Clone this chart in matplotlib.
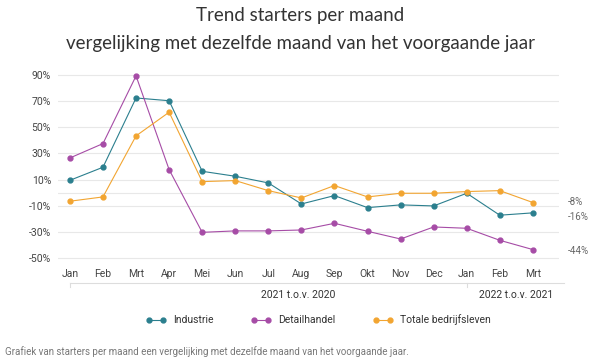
import matplotlib
matplotlib.use("Agg")
import matplotlib.pyplot as plt
from matplotlib.lines import Line2D

plt.rcParams['font.family'] = ['Roboto', 'DejaVu Sans']

months = ["Jan", "Feb", "Mrt", "Apr", "Mei", "Jun", "Jul", "Aug",
          "Sep", "Okt", "Nov", "Dec", "Jan", "Feb", "Mrt"]
industrie = [9.4, 19.4, 72.4, 70.3, 16.3, 12.5, 7.4, -8.7,
             -2.3, -11.5, -9.4, -10.2, -0.5, -17.3, -15.5]
detailhandel = [26.5, 37.5, 89.3, 17.6, -30.4, -29.3, -29.3, -28.6,
                -23.5, -29.6, -35.5, -26.3, -27.3, -36.5, -43.6]
totaal = [-6.6, -3.3, 43.4, 61.5, 8.4, 9.2, 1.5, -4.1,
          5.4, -3.3, -0.5, -0.5, 0.8, 1.5, -7.6]
yticks = [90, 70, 50, 30, 10, -10, -30, -50]
end_labels = ["-8%", "-16%", "-44%"]

c_ind = "#2b7f8e"
c_det = "#a64ca6"
c_tot = "#f2a531"
grey = "#666666"

fig = plt.figure(figsize=(6, 3.6), dpi=100)
ax = fig.add_axes([58 / 600, 1 - 262 / 360, 501 / 600, 192 / 360])

x = list(range(len(months)))
for vals, col, name in [(industrie, c_ind, "Industrie"),
                        (detailhandel, c_det, "Detailhandel"),
                        (totaal, c_tot, "Totale bedrijfsleven")]:
    ax.plot(x, vals, color=col, lw=0.8, marker="o", ms=3.5, label=name, zorder=3)

for y in yticks + [0]:
    ax.axhline(y, color="#e8e8e8", lw=0.8, zorder=1)

ax.set_xlim(-0.36, 14.79)
ax.set_ylim(-53.1, 93.8)
ax.set_yticks(yticks)
ax.set_yticklabels([f"{v}%" for v in yticks], fontsize=7.5, color="#444444")
ax.set_xticks(x)
ax.set_xticklabels(months, fontsize=7.5, color="#444444")
ax.tick_params(length=0, pad=5)
for s in ax.spines.values():
    s.set_visible(False)

# labels at the end of the lines
for txt, yv in zip(end_labels, [totaal[-1] + 0.5, industrie[-1] - 3.1, detailhandel[-1] - 1.0]):
    ax.text(14 + 1.06, yv, txt, fontsize=7, color=grey, va="center", ha="left")

# year grouping below the month labels
ax.plot([0, 14.95], [-69.2, -69.2], color="#dddddd", lw=0.8, clip_on=False)
ax.plot([0, 0], [-69.2, -72.5], color="#dddddd", lw=0.8, clip_on=False)
ax.plot([12, 12], [-69.2, -72.5], color="#dddddd", lw=0.8, clip_on=False)
ax.text(6.9, -78.4, "2021 t.o.v. 2020", fontsize=7.5, color="#333333", ha="center", va="center")
ax.text(13.5, -78.4, "2022 t.o.v. 2021", fontsize=7.5, color="#333333", ha="center", va="center")

handles = [Line2D([0], [0], color=c, lw=0.8, marker="o", ms=3.5)
           for c in (c_ind, c_det, c_tot)]
fig.legend(handles, ["Industrie", "Detailhandel", "Totale bedrijfsleven"],
           loc="center", bbox_to_anchor=(318 / 600, 1 - 320 / 360), ncol=3,
           frameon=False, fontsize=7.5, numpoints=2, handlelength=2.0,
           columnspacing=3.6, handletextpad=0.6, labelcolor="#333333")

fig.text(0.5, 1 - 16 / 360, "Trend starters per maand", ha="center", va="center",
         fontsize=13.5, family=["Lato", "DejaVu Sans"], color="#333333")
fig.text(0.5, 1 - 43 / 360, "vergelijking met dezelfde maand van het voorgaande jaar",
         ha="center", va="center", fontsize=13.5, family=["Lato", "DejaVu Sans"], color="#333333")
fig.text(5 / 600, 1 - 352 / 360,
         "Grafiek van starters per maand een vergelijking met dezelfde maand van het voorgaande jaar.",
         ha="left", va="center", fontsize=7, color="#777777")

fig.savefig("out.png", dpi=100)
